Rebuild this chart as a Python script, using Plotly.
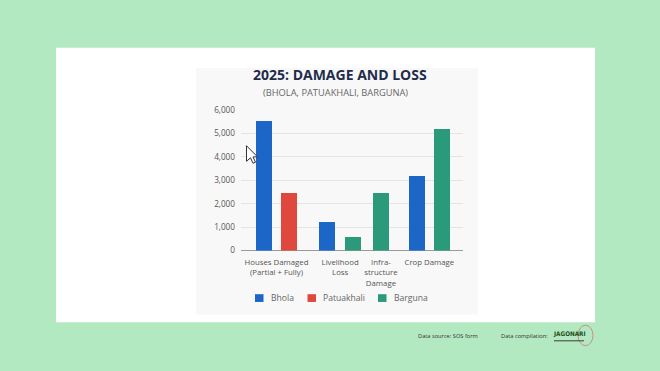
import plotly.graph_objects as go

# ---- data ----
categories = ["Houses Damaged (Partial + Fully)", "Livelihood Loss", "Infrastructure Damage", "Crop Damage"]
tick_labels = ["Houses Damaged<br>(Partial + Fully)", "Livelihood<br>Loss", "Infra-<br>structure<br>Damage", "Crop Damage"]
series_names = ["Bhola", "Patuakhali", "Barguna"]
bhola = [5550, 1220, None, 3180]
patuakhali = [2450, None, None, None]
barguna = [None, 600, 2450, 5180]
y_ticks = [0, 1000, 2000, 3000, 4000, 5000, 6000]

# ---- layout / style ----
W, H = 660, 371
colors = ["#1b66c6", "#e0483e", "#2b9a7a"]
cat_pos = [0, 2.5, 4.1, 6.0]   # category centres on the x scale (layout)
pitch = 1.0
bar_w = 0.63
legend_x = [255, 307.5, 378]  # legend square left edges (px)
legend_y = 301

def px(x):
    return x / W

def py(y):
    return 1 - y / H

all_series = [bhola, patuakhali, barguna]

# skip-null grouping: bars within a category centred on the non-null ones
xs = [[None] * len(categories) for _ in all_series]
for ci in range(len(categories)):
    present = [si for si, s in enumerate(all_series) if s[ci] is not None]
    n = len(present)
    for k, si in enumerate(present):
        xs[si][ci] = cat_pos[ci] + (k - (n - 1) / 2) * pitch

fig = go.Figure()
for si, (name, vals) in enumerate(zip(series_names, all_series)):
    xx = [xs[si][i] for i in range(len(vals)) if vals[i] is not None]
    yy = [v for v in vals if v is not None]
    fig.add_trace(go.Bar(
        x=xx, y=yy, name=name, width=bar_w,
        marker=dict(color=colors[si], line=dict(width=0)),
        hoverinfo="skip", showlegend=False,
    ))

shapes = [
    dict(type="rect", xref="paper", yref="paper", x0=px(56), x1=px(595), y0=py(326), y1=py(43),
         fillcolor="white", line=dict(width=0), layer="below"),
    dict(type="rect", xref="paper", yref="paper", x0=px(196), x1=px(478), y0=py(318), y1=py(64),
         fillcolor="#f8f8f8", line=dict(width=0), layer="below"),
]

annotations = [
    dict(text="<b>2025: DAMAGE AND LOSS</b>", x=px(340), y=py(71), xref="paper", yref="paper",
         showarrow=False, font=dict(family="Open Sans", size=14, color="#1f2c4c"), xanchor="center", yanchor="middle"),
    dict(text="(BHOLA, PATUAKHALI, BARGUNA)", x=px(336), y=py(89), xref="paper", yref="paper",
         showarrow=False, font=dict(family="Open Sans", size=9.3, color="#666"), xanchor="center", yanchor="middle"),
    dict(text="Data source: SOS form", x=px(416), y=py(340.5), xref="paper", yref="paper",
         showarrow=False, font=dict(family="Open Sans", size=5.7, color="#333"), xanchor="left", yanchor="middle"),
    dict(text="Data compilation:", x=px(498.5), y=py(340.5), xref="paper", yref="paper",
         showarrow=False, font=dict(family="Open Sans", size=5.7, color="#333"), xanchor="left", yanchor="middle"),
    dict(text="<b>JAGONARI</b>", x=px(569.5), y=py(338.5), xref="paper", yref="paper",
         showarrow=False, font=dict(family="DejaVu Sans Condensed", size=6.3, color="#1d4f22"), xanchor="center", yanchor="middle"),
]

# manual legend (compact squares + labels)
for name, col, lx in zip(series_names, colors, legend_x):
    shapes.append(dict(type="rect", xref="paper", yref="paper", x0=px(lx), x1=px(lx + 8.5),
                       y0=py(legend_y + 4), y1=py(legend_y - 4), fillcolor=col, line=dict(width=0)))
    annotations.append(dict(text=name, x=px(lx + 13.5), y=py(legend_y), xref="paper", yref="paper",
                            showarrow=False, font=dict(family="Open Sans", size=8.6, color="#666"),
                            xanchor="left", yanchor="middle"))

# mouse cursor
tip = (246.5, 144)
pts = [(0, 0), (0, 16), (4, 12.5), (6.5, 18), (9, 17), (6.5, 11.5), (11, 11.5)]
path = "M " + " L ".join(f"{px(tip[0]+a):.5f},{py(tip[1]+b):.5f}" for a, b in pts) + " Z"
shapes.append(dict(type="path", xref="paper", yref="paper", path=path,
                   fillcolor="white", line=dict(color="#333", width=1), layer="above"))
# logo ring
shapes.append(dict(type="circle", xref="paper", yref="paper", x0=px(578), x1=px(593), y0=py(350), y1=py(329),
                   line=dict(color="#c77", width=0.8), fillcolor="rgba(0,0,0,0)"))
# logo underline text bar
shapes.append(dict(type="line", xref="paper", yref="paper", x0=px(554), x1=px(584), y0=py(345), y1=py(345),
                   line=dict(color="#555", width=1.2)))

fig.update_layout(
    width=W, height=H,
    margin=dict(l=0, r=0, t=0, b=0),
    paper_bgcolor="#b3e9c0",
    plot_bgcolor="rgba(0,0,0,0)",
    barmode="overlay",
    bargap=0,
    font=dict(family="Open Sans", color="#555"),
    showlegend=False,
    xaxis=dict(domain=[px(241), px(463)], range=[-1.39, 7.32],
               tickvals=cat_pos, ticktext=tick_labels, tickfont=dict(size=7.8, color="#555"),
               showgrid=False, zeroline=False, showline=False, ticks="", fixedrange=True,
               ticklabelstandoff=6),
    yaxis=dict(domain=[py(252), py(107)], range=[0, 6000], tickvals=y_ticks,
               tickformat=",", tickfont=dict(size=8.2, color="#555"),
               showgrid=True, gridcolor="#e4e4e4", gridwidth=1,
               zeroline=True, zerolinecolor="#9a9a9a", zerolinewidth=1,
               showline=False, ticks="", ticklabelstandoff=5),
    shapes=shapes,
    annotations=annotations,
)

fig.write_html("out.html")
